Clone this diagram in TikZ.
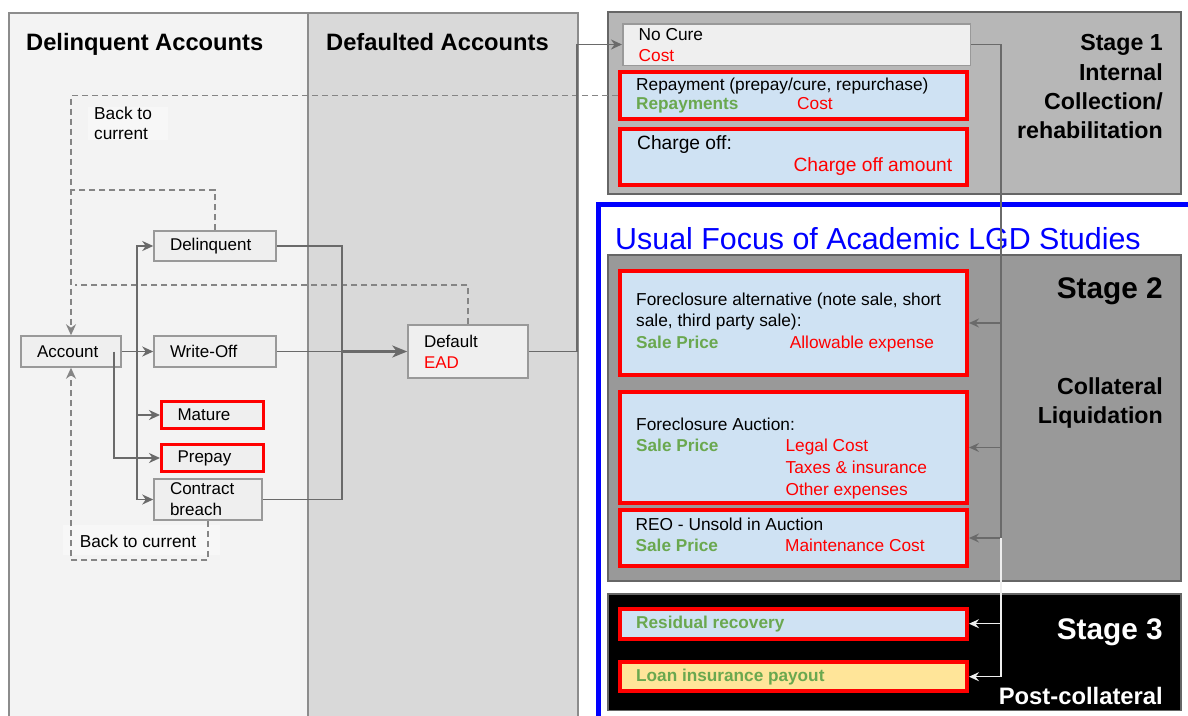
\documentclass[tikz,border=0pt]{standalone}
\usepackage{fontspec}
\setmainfont{Liberation Sans}
\usetikzlibrary{arrows.meta,calc}
\definecolor{pA}{HTML}{F3F3F3}
\definecolor{pB}{HTML}{D9D9D9}
\definecolor{panelline}{HTML}{8C8C8C}
\definecolor{nodefill}{HTML}{EFEFEF}
\definecolor{nodeline}{HTML}{999999}
\definecolor{conncol}{HTML}{6A6A6A}
\definecolor{dashcol}{HTML}{858585}
\definecolor{lblue}{HTML}{CFE2F3}
\definecolor{lyellow}{HTML}{FFE599}
\definecolor{tgreen}{HTML}{6AA84F}
\definecolor{tred}{HTML}{FF0000}
\definecolor{stA}{HTML}{B7B7B7}
\definecolor{stB}{HTML}{999999}
\definecolor{stline}{HTML}{666666}
\definecolor{lblfill}{HTML}{F7F7F7}
\definecolor{pureblue}{HTML}{0000FF}
\definecolor{lightline}{HTML}{EEEEEE}
\tikzset{
  gnode/.style={draw=nodeline, fill=nodefill, line width=1.5pt, font=\fontsize{17}{21}\selectfont, inner xsep=16pt, inner ysep=0pt, align=left},
  rnode/.style={gnode, draw=tred, line width=3pt},
  rbox/.style={draw=tred, fill=lblue, line width=4pt, inner sep=0pt},
  txt/.style={anchor=base west, inner sep=0pt, font=\fontsize{17.3}{21}\selectfont},
  bigtxt/.style={anchor=base west, inner sep=0pt, font=\fontsize{19.2}{23}\selectfont},
  gtxt/.style={txt, text=tgreen, font=\bfseries\fontsize{17.2}{21}\selectfont},
  rtxt/.style={txt, text=tred},
  stagetxt/.style={anchor=base east, inner sep=0pt, font=\bfseries\fontsize{23.2}{28}\selectfont},
  bigstage/.style={anchor=base east, inner sep=0pt, font=\bfseries\fontsize{29.8}{34}\selectfont},
  heading/.style={anchor=base west, inner sep=0pt, font=\bfseries\fontsize{23.7}{28}\selectfont},
  conn/.style={draw=conncol, line width=1.8pt},
  tip/.style={-{Stealth[length=11pt,width=10pt,inset=3.5pt]}},
  arr/.style={conn, tip},
  arrw/.style={draw=lightline, line width=1.5pt, -{Stealth[length=10pt,width=9pt,inset=3.5pt]}},
  arrr/.style={conn, line width=1.5pt, -{Stealth[length=10pt,width=9pt,inset=3.5pt]}},
  dsh/.style={draw=dashcol, line width=1.6pt, dash pattern=on 6pt off 4pt},
  lbl/.style={fill=lblfill, inner sep=0pt, anchor=north west}
}
\begin{document}
\begin{tikzpicture}[x=1pt,y=-1pt]
\useasboundingbox (0,0) rectangle (1188,715);
% ---------- left panels
\draw[fill=pA, draw=panelline, line width=1.2pt] (9,13) rectangle (308,740);
\draw[fill=pB, draw=panelline, line width=1.2pt] (308,13) rectangle (578,740);
\node[heading] (hdel) at (26,50) {Delinquent Accounts};
\node[heading] (hdef) at (326,50) {Defaulted Accounts};
% labels
\node[lbl, minimum width=80pt, minimum height=33pt] (bc1) at (88,107) {};
\node[txt] (bc1a) at (94,119.3) {Back to};
\node[txt] (bc1b) at (94,139.3) {current};
\node[lbl, minimum width=157pt, minimum height=30pt] (bc2) at (63,525) {};
\node[txt] (bc2a) at (79.6,547.3) {Back to current};
% nodes
\node[gnode, text width=68pt, minimum height=31pt] (acc) at (71,351.5) {Account};
\node[gnode, text width=90pt, minimum height=30pt] (del) at (215,246) {Delinquent};
\node[gnode, text width=90pt, minimum height=31pt] (wo) at (215,351.5) {Write-Off};
\node[rnode, text width=70pt, minimum height=27pt] (mat) at (212.5,415) {Mature};
\node[rnode, text width=70pt, minimum height=27pt] (pre) at (212.5,458) {Prepay};
\node[gnode, text width=76pt, minimum height=41pt] (cb) at (208,499.5) {Contract\\breach};
\node[gnode, text width=88pt, minimum height=53pt] (def) at (468,351.5) {Default\\\textcolor{tred}{EAD}};
% ---------- right side
\draw[fill=white, draw=pureblue, line width=5pt] (598.5,204) rectangle (1215,745);
\node[anchor=base west, inner sep=0pt, text=pureblue, font=\fontsize{30.4}{35}\selectfont] (title) at (615,249.5) {Usual Focus of Academic LGD Studies};
% stage 1
\draw[fill=stA, draw=stline, line width=1.5pt] (608,12) rectangle (1181,194);
\node[gnode, minimum width=347.5pt, minimum height=41.5pt, inner sep=0pt] (nc) at (796.5,44.5) {};
\node[txt] (nct) at (638.5,40) {No Cure};
\node[rtxt] (ncc) at (638.5,61.7) {Cost};
\node[rbox, minimum width=347pt, minimum height=47pt] (rep) at (793.5,95.5) {};
\node[txt] (rept) at (636,90.5) {Repayment (prepay/cure, repurchase)};
\node[gtxt] (repg) at (636,109.5) {Repayments};
\node[rtxt] (repc) at (797,109.5) {Cost};
\node[rbox, minimum width=347pt, minimum height=56pt] (co) at (793.5,157) {};
\node[bigtxt] (cot) at (637,149) {Charge off:};
\node[bigtxt, text=tred] (coa) at (793.4,171.7) {Charge off amount};
\node[stagetxt] (s1a) at (1163,50) {Stage 1};
\node[stagetxt] (s1b) at (1163,80) {Internal};
\node[stagetxt] (s1c) at (1163,109) {Collection/};
\node[stagetxt] (s1d) at (1163,138.3) {rehabilitation};
% stage 2
\draw[fill=stB, draw=stline, line width=1.5pt] (608,255) rectangle (1181,581);
\node[rbox, minimum width=347pt, minimum height=104pt] (fa) at (793.5,323) {};
\node[txt] (fa1) at (636,305) {Foreclosure alternative (note sale, short};
\node[txt] (fa2) at (636,326.7) {sale, third party sale):};
\node[gtxt] (fa3) at (636,348.3) {Sale Price};
\node[rtxt] (fa4) at (789.6,348.3) {Allowable expense};
\node[rbox, minimum width=347pt, minimum height=111pt] (fau) at (793.5,447.5) {};
\node[txt] (fau1) at (636,430) {Foreclosure Auction:};
\node[gtxt] (fau2) at (636,451.7) {Sale Price};
\node[rtxt] (fau3) at (785.4,451.7) {Legal Cost};
\node[rtxt] (fau4) at (785.4,473.3) {Taxes \& insurance};
\node[rtxt] (fau5) at (785.4,495) {Other expenses};
\node[rbox, minimum width=347pt, minimum height=56pt] (reo) at (793.5,538) {};
\node[txt] (reo1) at (635.5,530) {REO - Unsold in Auction};
\node[gtxt] (reo2) at (635.5,551.7) {Sale Price};
\node[rtxt] (reo3) at (785,551.7) {Maintenance Cost};
\node[bigstage] (s2a) at (1163,298) {Stage 2};
\node[stagetxt] (s2b) at (1163,394.3) {Collateral};
\node[stagetxt] (s2c) at (1163,423.3) {Liquidation};
% stage 3
\draw[fill=black, draw=stline, line width=1.5pt] (608,594) rectangle (1181,710.5);
\node[rbox, minimum width=347pt, minimum height=30pt] (res) at (793.5,623.7) {};
\node[gtxt] (rest) at (636,628.3) {Residual recovery};
\node[rbox, fill=lyellow, minimum width=347pt, minimum height=29.3pt] (loan) at (793.5,676.7) {};
\node[gtxt] (loant) at (636,681.7) {Loan insurance payout};
\node[bigstage, text=white] (s3a) at (1163,639.3) {Stage 3};
\node[stagetxt, text=white, font=\bfseries\fontsize{23.8}{28}\selectfont] (s3b) at (1163,704) {Post-collateral};
% ---------- connectors (left)
\coordinate (bus) at (137,351.5);
\coordinate (mrg) at (342,351.5);
\coordinate (dx) at (577,0);
\coordinate (j1) at (71,190);
\coordinate (j2) at (75,285);
\coordinate (j3) at (208,560);
\draw[dsh, -{Stealth[length=11pt,width=10pt,inset=3.5pt]}] (rep.west) -| (acc.north);
\draw[dsh] (del.north) |- (j1);
\draw[dsh] (def.north) |- (j2);
\draw[dsh, -{Stealth[length=11pt,width=10pt,inset=3.5pt]}] (cb.south) -- (j3) -| (acc.south);
\draw[arr] (acc.east) -- (wo.west);
\draw[arr] (bus) |- (del.west);
\draw[arr] (bus) |- (mat.west);
\draw[arr] (bus) |- (cb.west);
\draw[arr] ([xshift=-8pt]acc.east) |- (pre.west);
\draw[conn] (del.east) -| (mrg);
\draw[conn] (cb.east) -| (mrg);
\draw[conn] (wo.east) -- (mrg);
\draw[conn, line width=3pt, -{Stealth[length=15pt,width=12pt,inset=4.5pt]}] (mrg) -- (def.west);
\draw[arr] (def.east) -- (def.east -| dx) -- (dx |- nc.west) -- (nc.west);
% ---------- connectors (right)
\coordinate (vx) at (1001,0);
\draw[conn, line width=1.5pt] (nc.east) -- (nc.east -| vx) -- (reo.east -| vx);
\draw[arrr] (fa.east -| vx) -- (fa.east);
\draw[arrr] (fau.east -| vx) -- (fau.east);
\draw[arrr] (reo.east -| vx) -- (reo.east);
\draw[arrw] (reo.east -| vx) -- (loan.east -| vx) -- (loan.east);
\draw[arrw] (res.east -| vx) -- (res.east);
\end{tikzpicture}
\end{document}
